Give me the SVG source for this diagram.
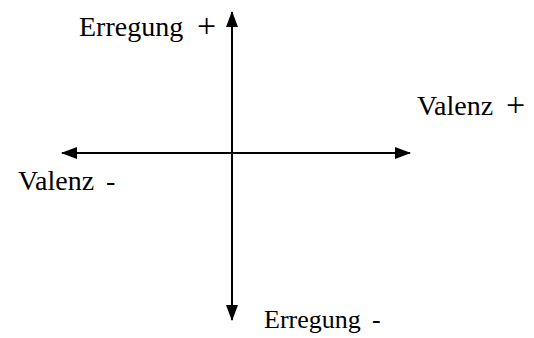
<svg xmlns="http://www.w3.org/2000/svg" width="534" height="338" viewBox="0 0 534 338">
<style>
text{font-family:'Liberation Serif','Times New Roman',serif;font-size:28px;fill:#000}
.p{font-size:34px}
.s{font-size:26px}
.ax{stroke:#000;stroke-width:2;fill:none}
</style>
<defs>
<marker id="ah" viewBox="0 0 16 12" refX="15" refY="6" markerWidth="16" markerHeight="12" markerUnits="userSpaceOnUse" orient="auto-start-reverse">
<path d="M0,0 L16,6 L0,12 Z" fill="#000"/>
</marker>
</defs>
<g id="connectors">
<line class="ax" x1="232" y1="320" x2="232" y2="12" marker-start="url(#ah)" marker-end="url(#ah)"/>
<line class="ax" x1="62" y1="153" x2="410" y2="153" marker-start="url(#ah)" marker-end="url(#ah)"/>
</g>
<g id="erregung-plus"><text x="79" y="36">Erregung</text><text class="p" x="197" y="37">+</text></g>
<g id="valenz-plus"><text x="417" y="115">Valenz</text><text class="p" x="506" y="116">+</text></g>
<g id="valenz-minus"><text x="18" y="190">Valenz</text><text x="106" y="190">-</text></g>
<g id="erregung-minus"><text class="s" x="264" y="328">Erregung</text><text class="s" x="372" y="328">-</text></g>
</svg>
